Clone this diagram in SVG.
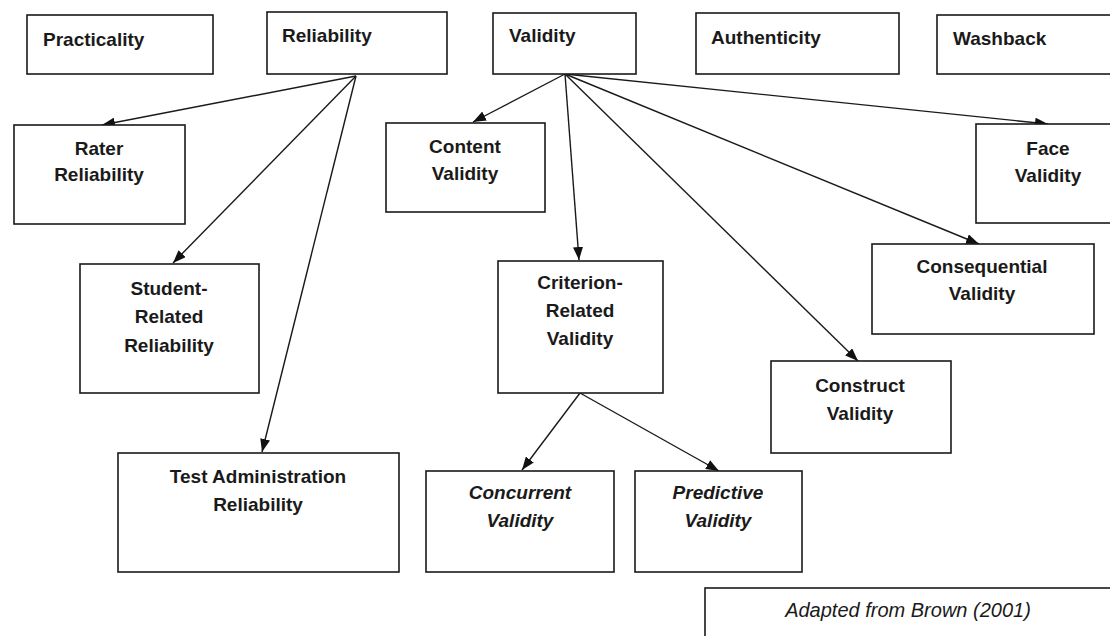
<svg xmlns="http://www.w3.org/2000/svg" width="1110" height="636" viewBox="0 0 1110 636">
<defs>
<style>
.box{fill:#fff;stroke:#1a1a1a;stroke-width:1.6}
.t{font-family:"Liberation Sans",Arial,sans-serif;font-weight:bold;font-size:19px;fill:#1a1a1a}
.c{text-anchor:middle}
.i{font-style:italic}
.note{font-family:"Liberation Sans",Arial,sans-serif;font-style:italic;font-size:20px;fill:#1a1a1a;text-anchor:middle}
.ln{stroke:#1a1a1a;stroke-width:1.4;fill:none;marker-end:url(#ah)}
</style>
<marker id="ah" markerUnits="userSpaceOnUse" markerWidth="14" markerHeight="10" refX="13" refY="5" orient="auto">
<path d="M0,0 L13,5 L0,10 Z" fill="#111"/>
</marker>
</defs>
<rect width="1110" height="636" fill="#fff"/>
<g id="connectors">
<line class="ln" x1="356" y1="76" x2="102" y2="125"/>
<line class="ln" x1="356" y1="76" x2="173" y2="263"/>
<line class="ln" x1="356" y1="76" x2="262" y2="452"/>
<line class="ln" x1="565" y1="74" x2="473" y2="122"/>
<line class="ln" x1="565" y1="74" x2="579" y2="260"/>
<line class="ln" x1="565" y1="74" x2="858" y2="361"/>
<line class="ln" x1="565" y1="74" x2="979" y2="244"/>
<line class="ln" x1="565" y1="74" x2="1048" y2="124"/>
<line class="ln" x1="580" y1="393" x2="522" y2="470"/>
<line class="ln" x1="580" y1="393" x2="719" y2="471"/>
</g>
<g id="practicality"><rect class="box" x="27" y="15" width="186" height="59"/><text class="t" x="43" y="46">Practicality</text></g>
<g id="reliability"><rect class="box" x="267" y="12" width="180" height="62"/><text class="t" x="282" y="42">Reliability</text></g>
<g id="validity"><rect class="box" x="493" y="13" width="143" height="61"/><text class="t" x="509" y="42">Validity</text></g>
<g id="authenticity"><rect class="box" x="696" y="13" width="203" height="61"/><text class="t" x="711" y="44">Authenticity</text></g>
<g id="washback"><rect class="box" x="937" y="15" width="180" height="59"/><text class="t" x="953" y="45">Washback</text></g>
<g id="rater"><rect class="box" x="14" y="125" width="171" height="99"/><text class="t c" x="99" y="155">Rater</text><text class="t c" x="99" y="181">Reliability</text></g>
<g id="content"><rect class="box" x="386" y="123" width="159" height="89"/><text class="t c" x="465" y="153">Content</text><text class="t c" x="465" y="180">Validity</text></g>
<g id="face"><rect class="box" x="976" y="124" width="140" height="99"/><text class="t c" x="1048" y="155">Face</text><text class="t c" x="1048" y="182">Validity</text></g>
<g id="student"><rect class="box" x="80" y="264" width="179" height="129"/><text class="t c" x="169" y="295">Student-</text><text class="t c" x="169" y="323">Related</text><text class="t c" x="169" y="352">Reliability</text></g>
<g id="testadmin"><rect class="box" x="118" y="453" width="281" height="119"/><text class="t c" x="258" y="483">Test Administration</text><text class="t c" x="258" y="511">Reliability</text></g>
<g id="criterion"><rect class="box" x="498" y="261" width="165" height="132"/><text class="t c" x="580" y="289">Criterion-</text><text class="t c" x="580" y="317">Related</text><text class="t c" x="580" y="345">Validity</text></g>
<g id="consequential"><rect class="box" x="872" y="244" width="222" height="90"/><text class="t c" x="982" y="273">Consequential</text><text class="t c" x="982" y="300">Validity</text></g>
<g id="construct"><rect class="box" x="771" y="361" width="180" height="92"/><text class="t c" x="860" y="392">Construct</text><text class="t c" x="860" y="420">Validity</text></g>
<g id="concurrent"><rect class="box" x="426" y="471" width="188" height="101"/><text class="t c i" x="520" y="499">Concurrent</text><text class="t c i" x="520" y="527">Validity</text></g>
<g id="predictive"><rect class="box" x="635" y="471" width="167" height="101"/><text class="t c i" x="718" y="499">Predictive</text><text class="t c i" x="718" y="527">Validity</text></g>
<g id="attribution"><rect class="box" x="705" y="588" width="412" height="60"/><text class="note" x="908" y="617">Adapted from Brown (2001)</text></g>
</svg>
